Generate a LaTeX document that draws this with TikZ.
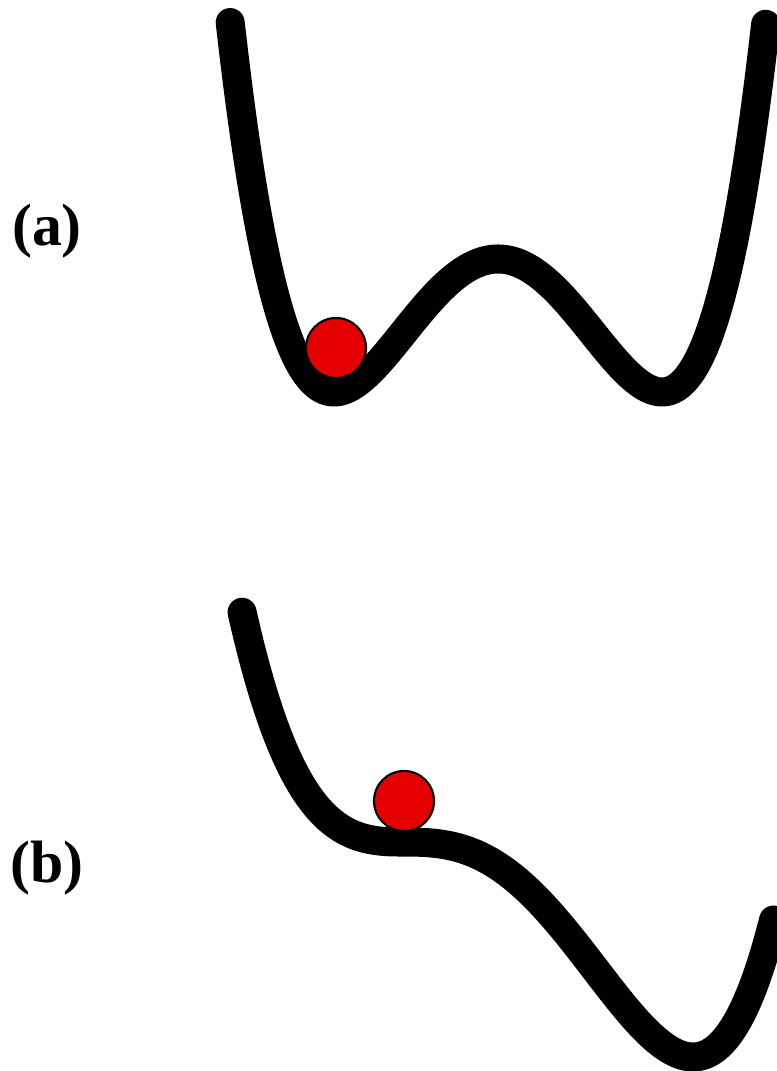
\documentclass[tikz,border=0pt]{standalone}
\usepackage{fontspec}
\setmainfont{Liberation Serif}
\definecolor{ballred}{RGB}{228,0,0}

\begin{document}
\begin{tikzpicture}[x=0.01cm, y=-0.01cm,
  font=\fontsize{17}{20}\selectfont\bfseries,
  curve/.style={line width=0.29cm, line cap=round, line join=round},
  ball/.style={circle, draw, line width=0.6pt, fill=ballred, minimum size=0.6cm, inner sep=0pt},
  tag/.style={inner sep=0pt}]
  \useasboundingbox (0,0) rectangle (777,1071);
  % (a) symmetric double well
  \draw[curve] plot[domain=-1.633:1.633, samples=120, smooth] ({498+164*\x}, {392-133*(\x*\x-1)^2});
  \node[ball] (balla) at (336,348) {};
  \node[tag] (laba) at (47,231) {(a)};
  % (b) tilted well, ball on the shoulder
  \draw[curve] plot[domain=-0.539:1.275, samples=120, smooth]
    ({400+293*\x}, {842-645*(\x*\x*\x*\x-4/3*\x*\x*\x)-140*(min(\x,0))^2});
  \node[ball] (ballb) at (404,801) {};
  \node[tag] (labb) at (47,868) {(b)};
\end{tikzpicture}
\end{document}
